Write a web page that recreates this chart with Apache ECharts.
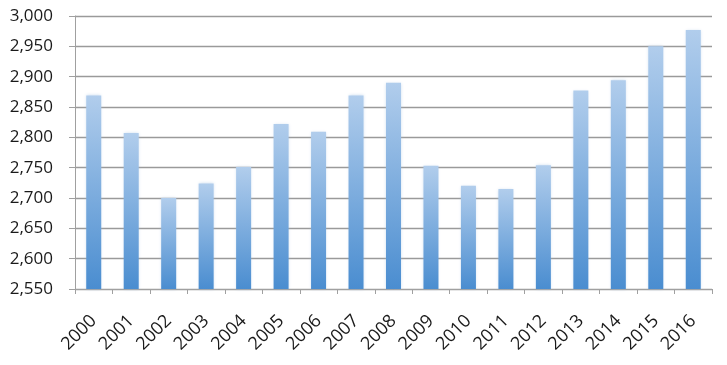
<!DOCTYPE html>
<html>
<head>
<meta charset="utf-8">
<script src="https://cdn.jsdelivr.net/npm/echarts@6/dist/echarts.min.js"></script>
<style>
html,body{margin:0;padding:0;background:#fff;}
#chart{width:727px;height:365px;}
</style>
</head>
<body>
<div id="chart"></div>
<script>
var categories = ['2000','2001','2002','2003','2004','2005','2006','2007','2008','2009','2010','2011','2012','2013','2014','2015','2016'];
var values = [2869, 2807, 2700, 2724, 2751, 2822, 2809, 2869, 2890, 2753, 2720, 2715, 2754, 2877, 2894, 2950, 2977];
var yMin = 2550, yMax = 3000, yStep = 50;

var chart = echarts.init(document.getElementById('chart'), null, {renderer: 'canvas'});
chart.setOption({
  animation: false,
  backgroundColor: '#ffffff',
  grid: {left: 75, right: 15, top: 16, bottom: 76, containLabel: false},
  xAxis: {
    type: 'category',
    data: categories,
    boundaryGap: true,
    axisLine: {show: true, lineStyle: {color: '#a0a0a0', width: 1}},
    axisTick: {show: true, alignWithLabel: false, length: 5, lineStyle: {color: '#a0a0a0'}},
    axisLabel: {
      interval: 0, rotate: 45, margin: 29,
      fontFamily: 'Open Sans', fontSize: 18, color: '#1a1a1a'
    }
  },
  yAxis: {
    type: 'value',
    min: yMin, max: yMax, interval: yStep,
    axisLine: {show: true, lineStyle: {color: '#a0a0a0', width: 1}},
    axisTick: {show: true, length: 6, lineStyle: {color: '#a0a0a0'}},
    splitLine: {show: true, lineStyle: {color: '#9a9a9a', width: 1.3}},
    axisLabel: {
      margin: 22,
      fontFamily: 'Open Sans', fontSize: 17, color: '#1a1a1a',
      formatter: function (v) { return v.toLocaleString('en-US'); }
    }
  },
  series: [{
    type: 'bar',
    data: values,
    barWidth: 15,
    itemStyle: {
      color: new echarts.graphic.LinearGradient(0, 0, 0, 1, [
        {offset: 0, color: '#b1cdec'},
        {offset: 1, color: '#4a8dd0'}
      ]),
      shadowColor: 'rgba(160,190,225,0.5)',
      shadowBlur: 3
    }
  }]
});
</script>
</body>
</html>
